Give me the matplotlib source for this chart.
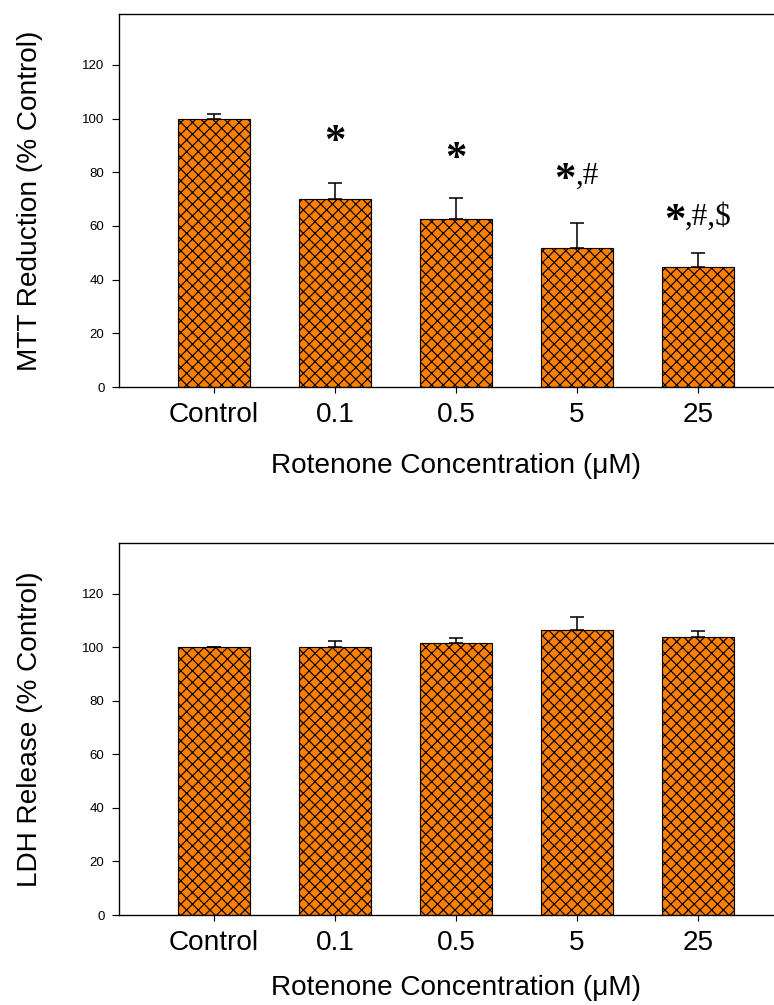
import matplotlib
matplotlib.use("Agg")
import matplotlib.pyplot as plt
from matplotlib.offsetbox import TextArea, HPacker, AnnotationBbox

DPI = 140
FIG_W, FIG_H = 774, 1005

categories = ["Control", "0.1", "0.5", "5", "25"]

mtt_means = [100.0, 70.0, 62.7, 51.7, 44.7]
mtt_errors = [1.9, 6.0, 7.9, 9.6, 5.4]
# significance marks: star part and the symbols after it
mtt_stars = ["", "*", "*", "*", "*"]
mtt_tails = ["", "", "", ",#", ",#,$"]
mtt_mark_levels = [0, 91.0, 84.7, 76.7, 61.4]

ldh_means = [100.0, 100.3, 101.7, 106.5, 103.9]
ldh_errors = [0.0, 2.0, 1.8, 4.9, 2.3]

y_ticks = [0, 20, 40, 60, 80, 100, 120]

BAR_COLOR = "#ff8000"
SANS = ["Liberation Sans", "DejaVu Sans"]
SERIF = ["Liberation Serif", "DejaVu Serif"]

plt.rcParams["font.family"] = SANS
plt.rcParams["hatch.linewidth"] = 0.6
plt.rcParams["hatch.color"] = "black"


def px(x):
    return x / FIG_W


def py(y):
    return 1 - y / FIG_H


def draw_panel(fig, top, bottom, means, errors, ylabel, xlabel_y):
    ax = fig.add_axes([px(119), py(bottom), 1 - px(119), py(top) - py(bottom)])
    x = list(range(len(categories)))
    ax.bar(x, means, width=0.59, color=BAR_COLOR, edgecolor="black",
           linewidth=0.6, hatch="xxxx", zorder=2)
    ax.errorbar(x, means, yerr=[[0] * len(errors), errors], fmt="none",
                ecolor="black", elinewidth=0.8, capsize=3.6, capthick=0.8,
                zorder=3)
    ax.set_xlim(-0.785, 4.628)
    ax.set_ylim(0, 139)
    ax.set_yticks(y_ticks)
    ax.set_xticks(x)
    ax.set_xticklabels(categories, fontsize=14.4)
    ax.tick_params(axis="y", direction="out", length=3.5, width=0.6,
                   labelsize=6.8, pad=4)
    ax.tick_params(axis="x", direction="out", length=3.0, width=0.6, pad=4.5)
    ax.spines["right"].set_visible(False)
    for side in ("left", "top", "bottom"):
        ax.spines[side].set_linewidth(0.7)
    fig.text(px(30), (py(top) + py(bottom)) / 2, ylabel, rotation=90,
             ha="center", va="center", fontsize=14.4)
    fig.text(px(456), py(xlabel_y), "Rotenone Concentration (\u03bcM)",
             ha="center", va="center", fontsize=14.4)
    return ax


fig = plt.figure(figsize=(FIG_W / DPI, FIG_H / DPI), dpi=DPI)

ax1 = draw_panel(fig, 14, 387, mtt_means, mtt_errors,
                 "MTT Reduction (% Control)", 466)
for i, (star, tail, level) in enumerate(zip(mtt_stars, mtt_tails, mtt_mark_levels)):
    if not star:
        continue
    parts = [TextArea(star, textprops=dict(fontsize=22, family=SERIF,
                                           fontweight="bold"))]
    if tail:
        parts.append(TextArea(tail, textprops=dict(fontsize=16, family=SERIF)))
    box = HPacker(children=parts, align="top", pad=0, sep=0)
    ab = AnnotationBbox(box, (i, level), xycoords="data", frameon=False,
                        box_alignment=(0.5, 0.5), pad=0)
    ax1.add_artist(ab)

ax2 = draw_panel(fig, 543, 915, ldh_means, ldh_errors,
                 "LDH Release (% Control)", 988)

fig.savefig("out.png", dpi=DPI)
